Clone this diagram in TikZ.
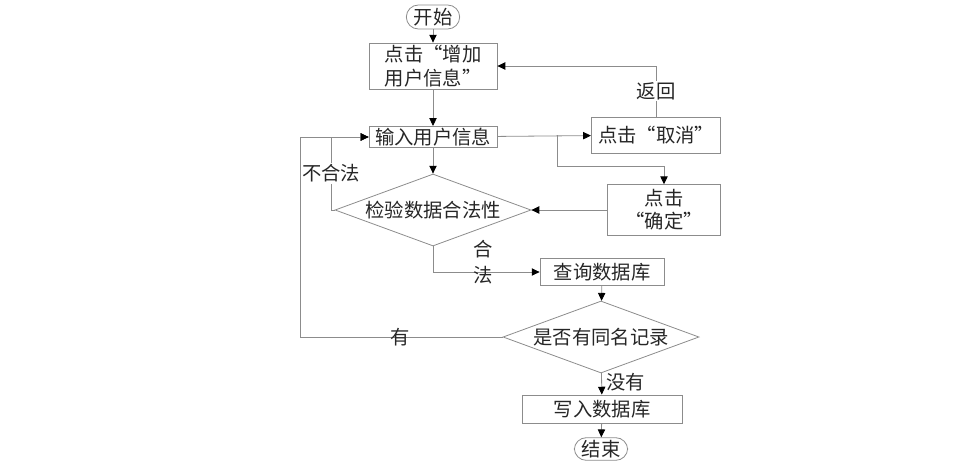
\documentclass[tikz,border=0pt]{standalone}
\usepackage{fontspec}
\setmainfont{Noto Sans CJK SC}
\usetikzlibrary{arrows.meta,shapes.geometric}

\definecolor{linegray}{RGB}{140,140,140}

\tikzset{
	box/.style={draw=linegray, inner sep=1pt, align=center},
	term/.style={box, rounded corners=9pt, minimum width=40pt, minimum height=18pt},
	test/.style={draw=linegray, diamond, aspect=2.8, inner sep=0pt, minimum width=147pt, minimum height=54pt},
	note/.style={fill=white, inner sep=1pt},
}

\begin{document}
\begin{tikzpicture}[x=0.75pt, y=-0.75pt, line width=0.6pt, linegray, text=black!85,
	arrows={-Triangle[angle=50:6.5pt, black]}, font=\fontsize{14.5}{17.5}\selectfont]
	\useasboundingbox (0,0) rectangle (964,469);
	\node[term] (start) at (433,17) {开始};
	\node[box, minimum width=96pt, minimum height=34.5pt] (add) at (433,66) {点击“增加\\用户信息”};
	\node[box, minimum width=96pt, minimum height=16pt] (input) at (433,137) {输入用户信息};
	\node[box, minimum width=97pt, minimum height=27pt] (cancel) at (656,135) {点击“取消”};
	\node[box, minimum width=85pt, minimum height=38pt] (confirm) at (664,210) {点击\\“确定”};
	\node[test] (check) at (433,210) {检验数据合法性};
	\node[box, minimum width=93pt, minimum height=20pt] (query) at (602,272) {查询数据库};
	\node[test] (same) at (601,337) {是否有同名记录};
	\node[box, minimum width=120pt, minimum height=21pt] (write) at (602,409) {写入数据库};
	\node[term, minimum height=17pt] (stop) at (601,449) {结束};
	\coordinate (fork) at (557,135);
	\coordinate (bend) at (557,166);
	\coordinate (badturn) at (331,210);
	\coordinate (outer) at (300,337);
	\draw (start) to (add);
	\draw (add) to (input);
	\draw (input) to (cancel);
	\draw (cancel.north) |- node [note, pos=0.25] {返回} (add.east);
	\draw (fork) -- (bend) -| (confirm.north);
	\draw (confirm) to (check);
	\draw (input) to (check);
	\draw (check.west) -- (badturn) |- node [note, pos=0.25] {不合法} (input.west);
	\draw (check.south) |- (query.west);
	\node[align=center, inner sep=0pt, font=\fontsize{14.5}{19}\selectfont] (legal) at (483,262) {合\\法};
	\draw (query) to (same);
	\draw (same.west) -- node [pos=0.507, inner sep=0pt] {有} (outer) |- (input.west);
	\draw (same) to node [right, pos=0.4] {没有} (write);
	\draw (write) to (stop);
\end{tikzpicture}
\end{document}
